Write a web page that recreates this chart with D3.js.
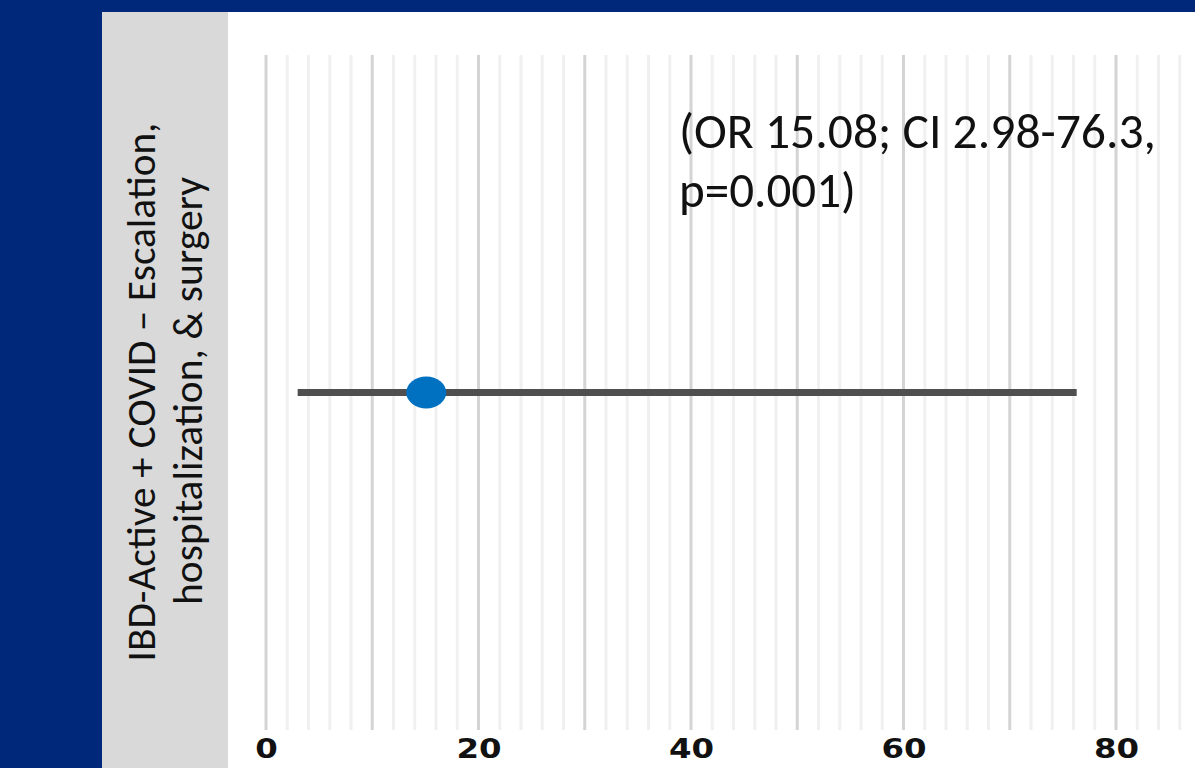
<!DOCTYPE html>
<html>
<head>
<meta charset="utf-8">
<script src="https://cdn.jsdelivr.net/npm/d3@7"></script>
<style>
  html, body { margin: 0; padding: 0; background: #00287A; }
  svg { display: block; }
</style>
</head>
<body>
<svg id="chart" width="1195" height="768"></svg>
<script>
// ---- data ----
const categories = ["IBD-Active + COVID – Escalation, hospitalization, & surgery"];
const oddsRatio = [15.08];
const ciLow = [2.98];
const ciHigh = [76.3];
const tickValues = [0, 20, 40, 60, 80];
const tickLabels = ["0", "20", "40", "60", "80"];
const gridValues = d3.range(0, 90, 2);
const yLabelLines = ["IBD-Active + COVID – Escalation,", "hospitalization, & surgery"];
const annotationLines = ["(OR 15.08; CI 2.98-76.3,", "p=0.001)"];

const W = 1195, H = 768;
const svg = d3.select("#chart");

// backgrounds
svg.append("rect").attr("x", 0).attr("y", 0).attr("width", W).attr("height", H).attr("fill", "#00287A");
svg.append("rect").attr("x", 102).attr("y", 12).attr("width", 126).attr("height", H - 12).attr("fill", "#D9D9D9");
svg.append("rect").attr("x", 228).attr("y", 12).attr("width", W - 228).attr("height", H - 12).attr("fill", "#FFFFFF");

// scales
const x = d3.scaleLinear().domain([0, 80]).range([266, 1116]);
const y = d3.scaleBand().domain(categories).range([55, 730]);

// gridlines
const plot = svg.append("g");
plot.append("clipPath").attr("id", "clip").append("rect")
  .attr("x", 228).attr("y", 12).attr("width", W - 228).attr("height", H - 12);
const grid = plot.append("g").attr("clip-path", "url(#clip)");
grid.selectAll("line.grid").data(gridValues).join("line")
  .attr("class", "grid")
  .attr("x1", d => x(d)).attr("x2", d => x(d))
  .attr("y1", 55).attr("y2", 730)
  .attr("stroke", d => d % 10 === 0 ? "#D4D4D4" : "#F0F0F0")
  .attr("stroke-width", 3);

// axis
const axis = d3.axisBottom(x).tickValues(tickValues)
  .tickFormat((d, i) => tickLabels[i]).tickSize(0).tickPadding(0);
const ax = svg.append("g").attr("transform", "translate(0,738)").call(axis);
ax.select(".domain").remove();
ax.selectAll("text")
  .attr("dy", null).attr("y", 20)
  .attr("transform", "scale(1.2,1)")
  .attr("font-family", "'DejaVu Sans', Verdana, sans-serif")
  .attr("font-weight", "bold")
  .attr("font-size", 27)
  .attr("fill", "#111111");

// CI line and point
const rows = categories.map((c, i) => ({ c, or: oddsRatio[i], lo: ciLow[i], hi: ciHigh[i] }));
const cy = d => y(d.c) + y.bandwidth() / 2;
svg.selectAll("line.ci").data(rows).join("line")
  .attr("class", "ci")
  .attr("x1", d => x(d.lo)).attr("x2", d => x(d.hi))
  .attr("y1", cy).attr("y2", cy)
  .attr("stroke", "#4F4F4F").attr("stroke-width", 7);
svg.selectAll("ellipse.pt").data(rows).join("ellipse")
  .attr("class", "pt")
  .attr("cx", d => x(d.or)).attr("cy", cy)
  .attr("rx", 20).attr("ry", 16)
  .attr("fill", "#0070C0");

// fit a text element's font size so its natural width equals target
function fitText(sel, target) {
  const base = 36;
  sel.attr("font-size", base);
  const len = sel.node().getComputedTextLength();
  if (len > 0) sel.attr("font-size", base * target / len);
}

// annotation
const fontCal = "Carlito, Calibri, 'Open Sans', sans-serif";
const ann = svg.append("g");
const annWidths = [477, 177];
annotationLines.forEach((t, i) => {
  const tx = ann.append("text")
    .attr("x", 679).attr("y", 148 + i * 59)
    .attr("font-family", fontCal)
    .attr("fill", "#111111")
    .text(t);
  fitText(tx, annWidths[i]);
});

// y label (rotated)
const ylab = svg.append("g");
const yBase = [155, 202];
const yCenters = [392, 391];
const yLens = [539, 428];
yLabelLines.forEach((t, i) => {
  const tx = ylab.append("text")
    .attr("transform", `translate(${yBase[i]},${yCenters[i]}) rotate(-90)`)
    .attr("text-anchor", "middle")
    .attr("font-family", fontCal)
    .attr("fill", "#111111")
    .text(t);
  fitText(tx, yLens[i]);
});
</script>
</body>
</html>
